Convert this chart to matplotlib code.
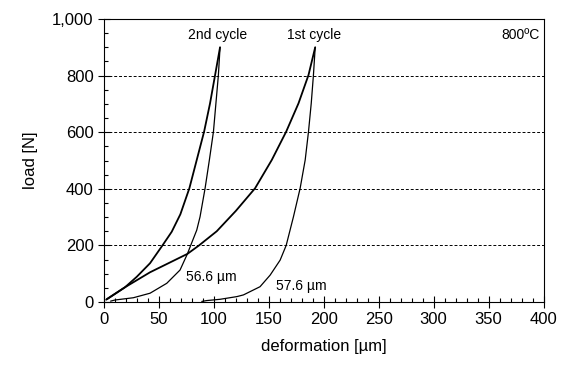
import matplotlib
matplotlib.use("Agg")
import matplotlib.pyplot as plt
from matplotlib.ticker import MultipleLocator, StrMethodFormatter

plt.rcParams['font.family'] = ['Liberation Sans', 'DejaVu Sans']

# curves: deformation [um], load [N]
load1_x = [2, 19.1, 41.9, 75.9, 86.5, 102.6, 120, 137.5, 152.7, 165.8, 177, 186.1, 192.2]
load1_y = [8, 52, 105, 170, 200, 250, 322, 402, 502, 602, 702, 802, 900]

unload1_x = [192.2, 190.6, 188.6, 186.1, 183.1, 178.5, 172.4, 165.8, 160.3, 151.2, 142, 126.9, 120.9, 105.6, 93.5, 89]
unload1_y = [900, 802, 702, 602, 502, 402, 301, 200, 148, 95, 54, 25, 19, 9.5, 5, 2]

load2_x = [2.5, 19.1, 29.8, 41.9, 53.4, 61.6, 69.5, 77.7, 84.4, 91.1, 96.5, 101.1, 105.6]
load2_y = [10, 52, 89, 137, 201, 248, 310, 402, 502, 602, 702, 802, 900]

unload2_x = [105.6, 104.1, 99.6, 95.9, 92, 87.4, 84.4, 79, 75.9, 69.2, 57.1, 41.9, 26.7, 10, 6]
unload2_y = [900, 802, 602, 502, 402, 301, 254, 201, 170, 113, 66, 31, 15, 7, 3]

fig = plt.figure(figsize=(5.64, 3.66), dpi=100)
ax = fig.add_axes([0.1844, 0.1749, 0.7793, 0.7731])

kw = dict(color='black', solid_joinstyle='round', solid_capstyle='round')
ax.plot(load1_x, load1_y, lw=1.3, **kw)
ax.plot(unload1_x, unload1_y, lw=0.9, **kw)
ax.plot(load2_x, load2_y, lw=1.3, **kw)
ax.plot(unload2_x, unload2_y, lw=0.9, **kw)

ax.set_xlim(0, 400)
ax.set_ylim(0, 1000)
ax.xaxis.set_major_locator(MultipleLocator(50))
ax.xaxis.set_minor_locator(MultipleLocator(10))
ax.yaxis.set_major_locator(MultipleLocator(200))
ax.yaxis.set_minor_locator(MultipleLocator(50))
ax.yaxis.set_major_formatter(StrMethodFormatter('{x:,.0f}'))

ax.tick_params(which='major', direction='inout', length=8, width=0.8, labelsize=12)
ax.tick_params(which='minor', direction='in', length=3, width=0.8)
ax.yaxis.grid(True, which='major', linestyle=(0, (3, 2)), color='black', lw=0.7)

for s in ax.spines.values():
    s.set_linewidth(0.8)

ax.set_xlabel('deformation [µm]', fontsize=12, labelpad=8)
ax.set_ylabel('load [N]', fontsize=12, labelpad=10)

ax.text(103.4, 943, '2nd cycle', fontsize=10, ha='center', va='center')
ax.text(191.3, 943, '1st cycle', fontsize=10, ha='center', va='center')
ax.text(396, 943, '800ºC', fontsize=10, ha='right', va='center')
ax.text(97.3, 87, '56.6 µm', fontsize=10, ha='center', va='center')
ax.text(180, 57.6, '57.6 µm', fontsize=10, ha='center', va='center')

fig.savefig('out.png', dpi=100)
